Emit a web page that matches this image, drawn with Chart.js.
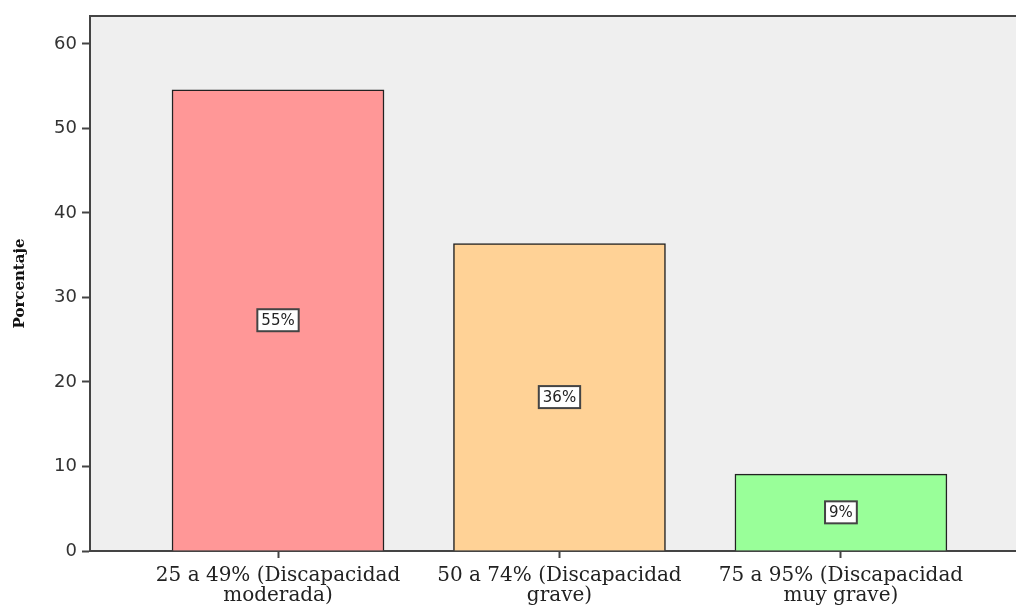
<!DOCTYPE html>
<html>
<head>
<meta charset="utf-8">
<script src="https://cdn.jsdelivr.net/npm/chart.js@4.4.0/dist/chart.umd.min.js"></script>
<style>
  html, body { margin: 0; padding: 0; background: #fff; overflow: hidden; }
  #wrap { width: 1016px; height: 610px; }
</style>
</head>
<body>
<div id="wrap"><canvas id="graphic"></canvas></div>
<script>
const categorias = [
  ['25 a 49% (Discapacidad', 'moderada)'],
  ['50 a 74% (Discapacidad', 'grave)'],
  ['75 a 95% (Discapacidad', 'muy grave)']
]
const porcentajes = [54.55, 36.36, 9.09]
const etiquetas = ['55%', '36%', '9%']
const yTicks = [0, 10, 20, 30, 40, 50, 60]
const colores = ['#ff9797', '#ffd296', '#99ff99']

// cajitas blancas con el porcentaje en medio de cada barra
const etiquetasPlugin = {
  id: 'etiquetas',
  afterDatasetsDraw(chart) {
    const ctx = chart.ctx
    const meta = chart.getDatasetMeta(0)
    ctx.save()
    ctx.font = '15px "DejaVu Sans", sans-serif'
    ctx.textAlign = 'center'
    ctx.textBaseline = 'middle'
    meta.data.forEach((bar, i) => {
      const cy = (bar.y + bar.base) / 2
      const w = ctx.measureText(etiquetas[i]).width + 8
      const h = 22
      ctx.fillStyle = '#ffffff'
      ctx.fillRect(bar.x - w / 2, cy - h / 2, w, h)
      ctx.strokeStyle = '#444'
      ctx.lineWidth = 2
      ctx.strokeRect(bar.x - w / 2, cy - h / 2, w, h)
      ctx.fillStyle = '#222'
      ctx.fillText(etiquetas[i], bar.x, cy + 1)
    })
    ctx.restore()
  }
}

const marcoPlugin = {
  id: 'marco',
  beforeDraw(chart) {
    const {ctx, chartArea} = chart
    ctx.save()
    ctx.fillStyle = '#efefef'
    ctx.fillRect(chartArea.left, chartArea.top, chartArea.right - chartArea.left, chartArea.bottom - chartArea.top)
    ctx.restore()
  },
  afterDraw(chart) {
    const {ctx, chartArea} = chart
    ctx.save()
    ctx.strokeStyle = '#444'
    ctx.lineWidth = 2
    ctx.beginPath()
    ctx.moveTo(chartArea.left, chartArea.top)
    ctx.lineTo(chartArea.right, chartArea.top)
    ctx.stroke()
    ctx.restore()
  }
}

const renderGrafico = () => {
  const ctx = document.querySelector('#graphic').getContext('2d')
  new Chart(ctx, {
    type: 'bar',
    data: {
      datasets: [{
        data: porcentajes.map((v, i) => ({x: i, y: v})),
        backgroundColor: colores,
        borderColor: '#222',
        borderWidth: 1.5,
        barThickness: 212
      }]
    },
    plugins: [marcoPlugin, etiquetasPlugin],
    options: {
      responsive: true,
      maintainAspectRatio: false,
      animation: false,
      layout: { padding: { top: 16, right: 0, left: 0, bottom: 0 } },
      plugins: { legend: { display: false }, tooltip: { enabled: false } },
      scales: {
        x: {
          type: 'linear',
          min: -0.668,
          max: 2.622,
          offset: false,
          afterBuildTicks: (scale) => { scale.ticks = categorias.map((c, i) => ({value: i})) },
          afterFit: (scale) => { scale.height = 59 },
          grid: { offset: false, drawOnChartArea: false, drawTicks: true, tickLength: 7, tickColor: '#444', tickWidth: 2 },
          border: { color: '#444', width: 2 },
          ticks: {
            autoSkip: false,
            maxRotation: 0,
            padding: 8,
            color: '#222',
            font: { family: '"DejaVu Serif", serif', size: 20, lineHeight: 1.0 },
            callback: (v) => categorias[v]
          }
        },
        y: {
          min: 0,
          max: 63.3,
          afterBuildTicks: (scale) => { scale.ticks = yTicks.map(v => ({value: v})) },
          afterFit: (scale) => { scale.width = 90 },
          grid: { drawOnChartArea: false, drawTicks: true, tickLength: 8, tickColor: '#444', tickWidth: 2 },
          border: { color: '#444', width: 2 },
          ticks: {
            padding: 5,
            color: '#333',
            font: { family: '"DejaVu Sans", sans-serif', size: 18 }
          },
          title: {
            display: true,
            text: 'Porcentaje',
            color: '#111',
            padding: { top: 11, bottom: 4 },
            font: { family: '"DejaVu Serif", serif', size: 15, weight: 'bold' }
          }
        }
      }
    }
  })
}

renderGrafico()
</script>
</body>
</html>
